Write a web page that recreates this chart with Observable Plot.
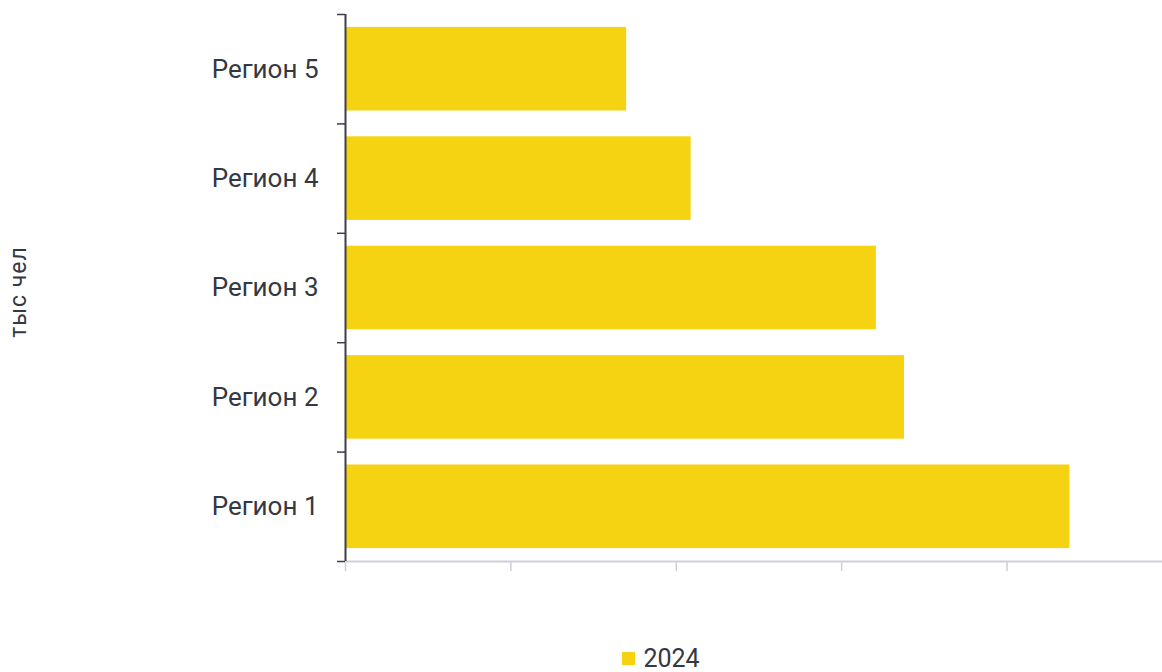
<!DOCTYPE html>
<html>
<head>
<meta charset="utf-8">
<script src="https://cdn.jsdelivr.net/npm/d3@7"></script>
<script src="https://cdn.jsdelivr.net/npm/@observablehq/plot@0.6"></script>
<style>
  body { margin: 0; background: #fff; font-family: Roboto, "Noto Sans", sans-serif; }
  #wrap { position: relative; width: 1162px; }
  #legend { display: flex; justify-content: center; align-items: center; margin-top: 46px; font-size: 25px; line-height: 1; color: #333842; padding-left: 160px; }
  #legend .sw { width: 13px; height: 13px; background: #F5D312; margin-right: 8px; margin-top: 0px; }
</style>
</head>
<body>
<div id="wrap">
  <div id="chart"></div>
  <div id="legend"><span class="sw"></span><span>2024</span></div>
</div>
<script>
const categories = ["Регион 1", "Регион 2", "Регион 3", "Регион 4", "Регион 5"];
const values2024 = [438, 338, 321, 209, 170];
const seriesName = "2024";
const yLabel = "тыс чел";
const xTicks = [0, 100, 200, 300, 400];

const data = categories.map((c, i) => ({ category: c, idx: i, value: values2024[i] }));
const pad = 0.118;

const chart = Plot.plot({
  width: 1162,
  height: 600,
  marginLeft: 345,
  marginRight: 0,
  marginTop: 14,
  marginBottom: 39,
  style: { fontFamily: "Roboto, 'Noto Sans', sans-serif", fontSize: "26px", color: "#333842", background: "#fff" },
  x: { domain: [0, 494] },
  y: { domain: [0, categories.length] },
  marks: [
    Plot.rect(data, { x1: () => 0, x2: "value", y1: d => d.idx + pad, y2: d => d.idx + 1 - pad, fill: "#F5D312" }),
    Plot.ruleY([0], { stroke: "#cdd0d9", strokeWidth: 2 }),
    Plot.axisX({ ticks: xTicks, tickFormat: () => "", tickSize: 10, stroke: "#cdd0d9", strokeWidth: 1.5, label: null }),
    Plot.axisY({ ticks: d3.range(0, categories.length + 1), tickFormat: () => "", tickSize: 8, stroke: "#3a3f4b", strokeWidth: 1.5, label: null }),
    Plot.ruleX([0], { y1: 0, y2: categories.length, stroke: "#3a3f4b", strokeWidth: 2 }),
    Plot.axisY({ ticks: categories.map((c, i) => i + 0.5), tickFormat: t => categories[Math.round(t - 0.5)], tickSize: 0, tickPadding: 27, fontSize: 26, fill: "#333842", label: null })
  ]
});
document.getElementById("chart").appendChild(chart);

// rotated y-axis title
const svg = d3.select(chart);
svg.append("text")
  .attr("transform", "translate(20,292) rotate(-90)")
  .attr("text-anchor", "middle")
  .attr("dominant-baseline", "middle")
  .attr("fill", "#333842")
  .style("font-size", "23px")
  .style("letter-spacing", "1px")
  .text(yLabel);
</script>
</body>
</html>
